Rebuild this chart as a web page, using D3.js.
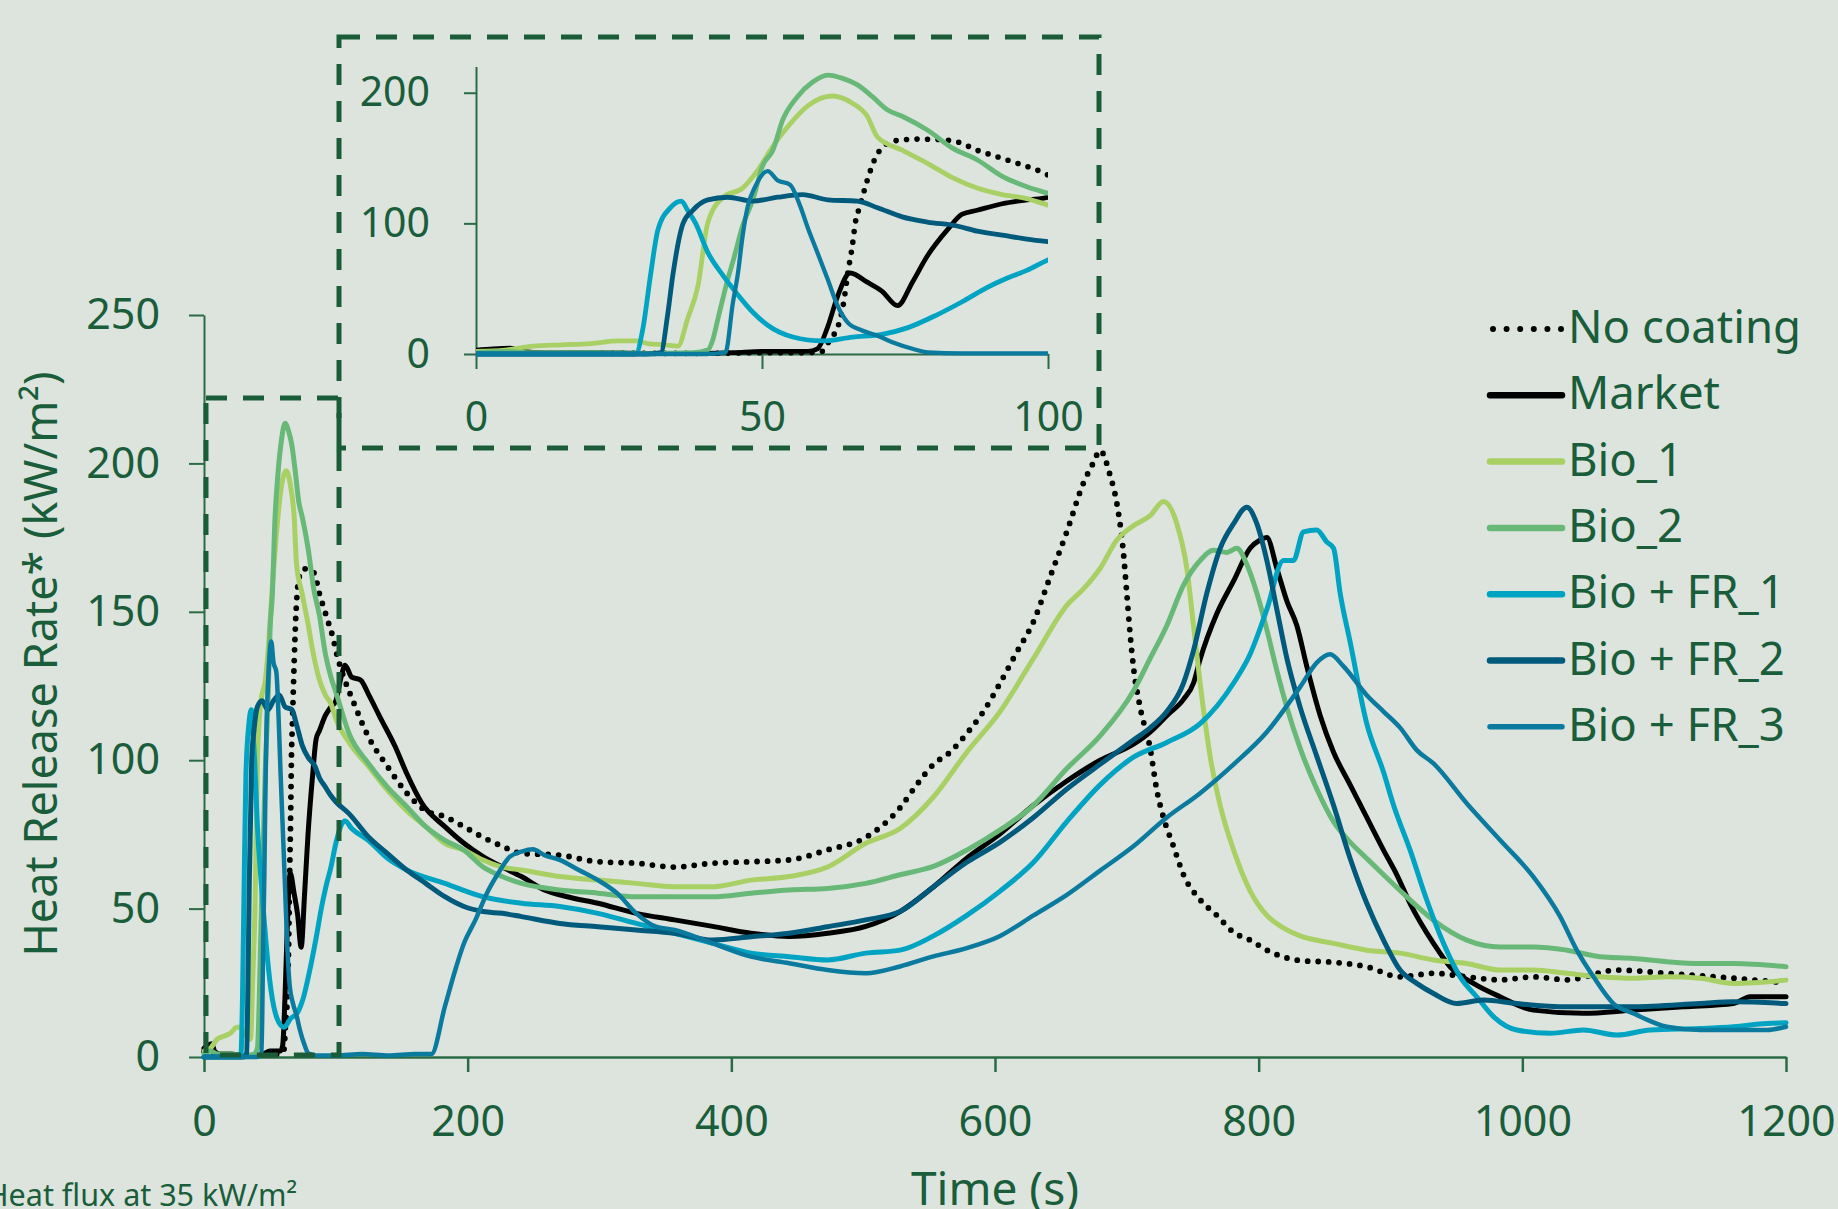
<!DOCTYPE html>
<html>
<head>
<meta charset="utf-8">
<script src="https://cdn.jsdelivr.net/npm/d3@7"></script>
<style>
  html, body { margin: 0; padding: 0; background: #dde4de; overflow: hidden; }
  svg { display: block; font-family: 'Noto Sans', sans-serif; }
</style>
</head>
<body>
<svg id="chart"></svg>
<script>
const SERIES = ['No coating', 'Market', 'Bio_1', 'Bio_2', 'Bio + FR_1', 'Bio + FR_2', 'Bio + FR_3']
const COLORS = ['#000000', '#000000', '#a9d064', '#68b878', '#00a4c2', '#005a7c', '#0a7a9e']
const X_TICKS = [0, 200, 400, 600, 800, 1000, 1200]
const Y_TICKS = [0, 50, 100, 150, 200, 250]
const INSET_X_TICKS = [0, 50, 100]
const INSET_Y_TICKS = [0, 100, 200]

// [time (s), heat release rate (kW/m2)]
const noCoating = [[0,2],[3,1.5],[6,1],[10,0.5],[20,0.5],[30,0.5],[40,0.5],[50,1],[55,1],[58,1],[60.5,2],[62,12],[63.2,20],[64.3,40],[65,62],[65.8,83],[66.3,100],[67.1,113],[68.4,133],[69.7,149],[71.9,161],[74.5,164],[77.2,164.5],[81.5,164],[84.1,162.5],[87.6,156],[91.1,151],[94.6,146],[98,141],[100,137],[106,128],[113,120],[124.6,108],[139,98],[153.7,89],[168.2,83],[182.7,81],[197.2,77.6],[211.7,74],[226.2,71],[240.8,68.6],[269.8,68],[298.8,65.8],[327.8,65.3],[356.9,64],[385.9,65.3],[414.9,65.8],[443.9,66.4],[473,69.8],[502,74],[528,84],[540.6,91.7],[553.3,98.6],[565.9,102.7],[578.6,109],[591.2,116.4],[603.9,126],[616.5,136.4],[629.2,146.7],[641.8,161.8],[654.5,177],[667.1,193.4],[674.7,200.3],[679.7,204.4],[687.3,196],[692.4,186.6],[697.4,170],[700,156],[702.5,142.5],[705,131.5],[710,118],[717.7,104],[722.7,90],[727.8,80.7],[735.4,71],[743,61.4],[755.6,53],[768.3,47.7],[781,42],[793.5,39.4],[806.2,36],[831.5,32.5],[856.8,31.9],[882,30.4],[907.3,27],[932.6,28.2],[957.9,27],[983.1,26],[1008.4,27],[1033.7,26],[1071.6,29.3],[1109.6,28.2],[1147.5,27],[1200,25]]

const market = [[0,3],[3,4],[6,4.5],[8,2],[12,1],[20,1],[30,0.5],[40,0.5],[45,1],[50,2],[55,2],[58,2],[59.7,4],[61.5,21],[63.2,44],[65.4,62],[68.4,55],[71,48],[73.7,37],[76.3,55],[78.9,75],[82.4,95],[85,107],[87.6,110],[92,115],[96.3,118],[100,120],[104,128],[107,132],[112,128],[118.8,127],[125,122],[133.3,114.7],[145,104.6],[153.7,95.6],[165.3,85.5],[182.7,77.6],[197.2,72],[211.7,67.5],[226.2,64],[240.8,60.8],[258.2,56.3],[275.6,54],[298.8,51.8],[327.8,48.4],[356.9,46.2],[385.9,44],[414.9,41.7],[443.9,40.6],[473,41.7],[502,44],[528,49],[553.3,57.3],[578.6,67],[603.9,75.2],[629.2,84.8],[654.5,93],[679.7,100],[705,105.4],[717.7,109.5],[730.3,115],[743,120.5],[750.6,126],[755.6,134],[768.3,149.4],[781,160.4],[793.5,171.4],[801.1,174.2],[806.2,175],[813.8,164.6],[821.4,153.6],[829,145.3],[836.5,131.6],[846.7,115],[856.8,102.7],[869.4,91.7],[882,80.7],[894.7,69.7],[904.8,61.4],[914.9,51.7],[932.6,38.3],[945.2,30.4],[962.9,24.8],[983.1,20.3],[1008.4,15.8],[1046.4,14.7],[1084.3,15.8],[1122.2,16.9],[1160.2,18],[1172.8,20.3],[1200,20.3]]

const bio1 = [[0,2],[5,3],[10,6],[15,7],[20,8],[25,10],[28,10],[30,8],[33,7],[35.3,6],[37,27],[38.8,52],[40.5,100],[43.2,120],[46.6,127],[49.3,141],[51.9,159],[54.5,174],[58,190],[62.3,197.5],[65.8,192],[68.4,182],[70.2,166],[74.5,156],[78.9,146],[83.3,135],[87.6,127],[92,122],[96.3,119],[100,114],[110,106],[124.6,98],[139,90],[153.7,83],[168.2,77.6],[182.7,72],[197.2,69.7],[211.7,66.4],[226.2,64],[240.8,63],[269.8,60.8],[298.8,59.6],[327.8,58.5],[356.9,57.4],[385.9,57.4],[414.9,59.6],[443.9,60.8],[473,64],[502,72],[528,77],[553.3,87.6],[578.6,102.7],[603.9,116.4],[629.2,134.3],[654.5,152.2],[667.1,157.7],[679.7,164.6],[692.4,174.2],[705,179],[717.7,182.4],[727.8,187.2],[737.9,179.7],[745.5,164.6],[750.6,145.3],[755.6,126],[763.2,101.3],[770.8,84.8],[781,69.7],[793.5,56],[806.2,47.7],[818.8,43.5],[831.5,40.8],[856.7,38.3],[882,36],[907.3,35],[932.6,32.7],[957.9,31.5],[983.1,29.3],[1008.4,29.3],[1033.7,28.2],[1059,27],[1084.3,26.5],[1109.6,27],[1134.9,26.5],[1160.2,24.8],[1200,25.9]]

const bio2 = [[0,1],[5,2],[10,1],[20,1],[30,0.5],[38,1],[40.5,3],[41.4,11],[42.3,27],[44,57],[45,72],[46.6,98],[48.4,118],[50.1,144],[51.9,156],[53.6,179],[56.2,197],[58.8,208],[61.5,213.5],[64.1,211],[66.7,206],[69.3,197],[71.9,187],[74.5,182],[78.9,171.5],[83.3,157.6],[87.6,148.7],[92,136],[96.3,128],[100,123],[110,109],[124.6,99],[139,91],[153.7,84.4],[168.2,77.6],[182.7,73],[197.2,69.7],[211.7,64],[226.2,60.8],[240.8,58.5],[269.8,56.3],[298.8,55.2],[327.8,54],[356.9,54],[385.9,54],[414.9,55.2],[443.9,56.3],[473,56.8],[502,58.5],[528,61.4],[553.3,64.2],[578.6,69.7],[603.9,76.5],[629.2,84.8],[654.5,97.2],[679.7,108.2],[705,123.3],[717.7,134.3],[730.3,145.3],[743,159],[755.6,167.3],[765.7,170.7],[775.8,170],[783.4,171.4],[791,166],[798.6,156.3],[806.2,144],[813.8,130.2],[821.4,117.8],[831.5,104],[844.1,90.3],[856.8,79.3],[869.4,72.4],[882,66.9],[894.7,61.4],[907.4,56],[932.6,46.1],[957.9,39.4],[983.1,37.1],[1008.4,37.1],[1033.7,36],[1059,33.8],[1084.3,33.2],[1109.6,32.1],[1134.9,31.5],[1160.2,31.5],[1200,30.4]]

const bioFr1 = [[0,0],[10,0],[20,0],[27.9,0],[29.2,20],[30.5,60],[31.8,95],[34,112],[35.9,117],[37,110],[38.4,100],[40.5,78],[43.2,60],[45.3,48],[48.4,32],[51,22],[55.4,13],[60.6,10],[65.8,13],[71,15],[75.4,20],[80.6,30],[85,40],[89.4,51],[92.8,58],[96.3,64],[100,72],[104,78],[107,79.5],[112,77],[124.6,73],[139,67],[153.7,63],[182.7,58.5],[211.7,54],[240.8,51.8],[269.8,50.7],[298.8,48.4],[327.8,45],[356.9,41.7],[385.9,38.3],[414.9,35],[443.9,33.8],[473,32.7],[502,35],[528,36],[553.3,40.8],[578.6,47.7],[603.9,55.9],[629.2,65.6],[654.5,79.3],[679.7,91.7],[705,101],[730.3,106],[755.6,112.3],[781,126],[793.5,135.7],[806.2,150.8],[818.8,167.3],[826.4,167.3],[834,176.9],[844.1,177.6],[851.7,173.5],[856.8,171.4],[861.8,156.3],[869.4,139.8],[882,112.3],[894.7,96],[902.2,85],[914.9,69.7],[927.5,52.9],[940.2,38.3],[952.8,27],[965.4,20.3],[978.1,13.6],[995.8,9.1],[1021,8],[1046.4,9.1],[1071.7,7.4],[1097,9.1],[1134.9,9.6],[1160.2,10.2],[1185.5,11.3],[1200,11.5]]

const bioFr2 = [[0,0],[10,0],[20,0],[30,0],[32.3,1],[33.5,30],[34.4,60],[36.2,100],[37.9,110],[40.5,118],[44,120],[48.4,117],[52.7,120],[57.1,122],[61.5,118],[66.7,117],[70.2,112],[74.5,105],[78.9,101],[84.1,98],[87.6,94],[92,91],[96.3,88],[100,86],[110,82],[124.6,74.2],[139,68.6],[153.7,63],[168.2,58.5],[182.7,54],[197.2,50.7],[211.7,49],[226.2,48.4],[240.8,47.3],[269.8,45],[298.8,43.9],[327.8,42.8],[356.9,41.7],[385.9,39.4],[414.9,40.5],[443.9,41.7],[473,43.9],[502,46.2],[528,49],[553.3,57.3],[578.6,65.6],[603.9,72.4],[629.2,80.7],[654.5,90.3],[679.7,98.6],[705,106.8],[717.7,110.9],[730.3,116.4],[743,126],[750.6,137],[760.7,156.3],[770.8,171.4],[781,179.7],[791,185.2],[798.6,179.7],[806.2,167.3],[813.8,150.8],[821.4,134.3],[831.5,117.8],[844.1,101.3],[856.8,84.8],[869.4,66.9],[882,51.8],[894.7,39.4],[907.3,29.3],[919.9,24.8],[932.6,21.4],[950.3,18],[970.5,19.2],[995.8,18],[1033.7,16.9],[1084.3,16.9],[1134.9,18],[1160.2,18.6],[1200,18]]

const bioFr3 = [[0,0],[10,0],[20,0],[30,0],[40,0],[43.6,1],[44.9,39],[45.8,62],[46.6,90],[47.5,113],[48.8,128],[51,140],[52.7,133],[54.9,129.6],[56.7,113],[58,96.6],[59.7,77.5],[61.5,57],[63.2,37],[65,24],[67.5,18],[70.2,14],[72.8,9],[76.3,4],[79,1.3],[85,0.5],[100,0.5],[120,1],[140,0.5],[160,1],[172.5,1],[182.7,17],[191.4,30.5],[197.2,38.3],[205.9,46.2],[214.6,55.2],[223.3,62],[232,67.5],[240.8,69.2],[249.5,70],[258.2,68],[269.8,66.4],[284.3,63],[298.8,59.6],[313.3,55.2],[327.8,48.4],[342.4,44],[356.9,42.8],[385.9,38.3],[414.9,33.8],[443.9,31.6],[473,29.3],[502,28.2],[528,30.5],[553.3,33.9],[578.6,36.7],[603.9,40.8],[629.2,47.7],[654.5,54.6],[679.7,62.8],[705,71],[730.3,80.7],[755.6,88.9],[781,98.6],[806.2,109.5],[831.5,124.7],[844.1,132.9],[854.2,135.7],[864.4,131.6],[882,121.9],[894.7,116.4],[907.4,110.9],[919.9,103.4],[932.6,98.9],[957.9,85.4],[983.1,73.1],[1008.4,60.7],[1028.7,47.3],[1041.3,36],[1054,27],[1069.1,18],[1084.3,14.7],[1109.6,10.2],[1134.9,9.1],[1160.2,9.1],[1185.5,9.1],[1200,10.2]]

const VALUES = [noCoating, market, bio1, bio2, bioFr1, bioFr2, bioFr3]

const WIDTH = 1838
const HEIGHT = 1209
const INK = '#1a5d3a'
const AXIS = '#2a6b45'
const DASH = '#1b5c38'

const svg = d3.select('#chart').attr('width', WIDTH).attr('height', HEIGHT)

svg.append('rect').attr('width', WIDTH).attr('height', HEIGHT).attr('fill', '#dde4de')

// main scales
const x = d3.scaleLinear().domain([0, 1200]).range([204, 1786])
const y = d3.scaleLinear().domain([0, 250]).range([1057, 315])

// inset scales
const ix = d3.scaleLinear().domain([0, 100]).range([476, 1048])
const iy = d3.scaleLinear().domain([0, 220]).range([354, 66.6])

const INSET_BOX = { x0: 339, y0: 37, x1: 1099, y1: 448 }

function styleAxis(g, size, width) {
	g.attr('font-size', null).attr('font-family', null)
	g.select('.domain').attr('stroke', AXIS).attr('stroke-width', width)
	g.selectAll('.tick line').attr('stroke', AXIS).attr('stroke-width', width)
	g.selectAll('.tick text')
		.attr('fill', INK)
		.attr('font-size', size)
		.attr('font-family', 'Noto Sans')
}

function drawLines(g, sx, sy, w) {
	const line = d3.line()
		.x(d => sx(d[0]))
		.y(d => sy(d[1]))
		.curve(d3.curveMonotoneX)

	g.selectAll('.series')
		.data(VALUES)
		.enter().append('path')
		.attr('class', 'series')
		.attr('d', line)
		.attr('fill', 'none')
		.attr('stroke', (d, i) => COLORS[i])
		.attr('stroke-width', (d, i) => i === 0 ? w + 0.8 : (i === 6 ? w - 0.5 : w))
		.attr('stroke-linejoin', 'round')
		.attr('stroke-linecap', 'round')
		.attr('stroke-dasharray', (d, i) => i === 0 ? '0 10.5' : null)
}

// main axes
const yAxis = svg.append('g')
	.attr('transform', `translate(${x(0)},0)`)
	.call(d3.axisLeft(y).tickValues(Y_TICKS).tickSize(15).tickSizeOuter(0).tickPadding(29))
styleAxis(yAxis, 43, 2)

const xAxis = svg.append('g')
	.attr('transform', `translate(0,${y(0)})`)
	.call(d3.axisBottom(x).tickValues(X_TICKS).tickFormat(d3.format('d')).tickSize(15).tickSizeOuter(0))
styleAxis(xAxis, 43, 2.5)
xAxis.selectAll('.tick text').attr('y', 79).attr('dy', 0)

// main series
drawLines(svg.append('g'), x, y, 5)

// inset axes
const iyAxis = svg.append('g')
	.attr('transform', `translate(${ix(0)},0)`)
	.call(d3.axisLeft(iy).tickValues(INSET_Y_TICKS).tickSize(12).tickSizeOuter(0).tickPadding(34))
styleAxis(iyAxis, 41, 2)

const ixAxis = svg.append('g')
	.attr('transform', `translate(0,${iy(0)})`)
	.call(d3.axisBottom(ix).tickValues(INSET_X_TICKS).tickSize(15).tickSizeOuter(0))
styleAxis(ixAxis, 41, 2)
ixAxis.selectAll('.tick text').attr('y', 77).attr('dy', 0)

// inset series, clipped to 0-100 s
svg.append('clipPath').attr('id', 'inset-clip')
	.append('rect')
	.attr('x', ix(0))
	.attr('y', iy(220) - 10)
	.attr('width', ix(100) - ix(0))
	.attr('height', iy(0) - iy(220) + 14)

drawLines(svg.append('g').attr('clip-path', 'url(#inset-clip)'), ix, iy, 4.8)

// dashed zoom boxes
const dashes = svg.append('g')
	.attr('fill', 'none')
	.attr('stroke', DASH)
	.attr('stroke-width', 5)
	.attr('stroke-dasharray', '21 16')

dashes.append('rect')
	.attr('x', x(0) + 2)
	.attr('y', y(222))
	.attr('width', INSET_BOX.x0 - x(0) - 2)
	.attr('height', y(0) - y(222) - 2)

dashes.append('rect')
	.attr('x', INSET_BOX.x0)
	.attr('y', INSET_BOX.y0)
	.attr('width', INSET_BOX.x1 - INSET_BOX.x0)
	.attr('height', INSET_BOX.y1 - INSET_BOX.y0)

// axis titles
svg.append('text')
	.attr('transform', 'translate(57,664) rotate(-90)')
	.attr('text-anchor', 'middle')
	.attr('fill', INK)
	.attr('font-size', 45)
	.text('Heat Release Rate* (kW/m²)')

svg.append('text')
	.attr('x', 995)
	.attr('y', 1205)
	.attr('text-anchor', 'middle')
	.attr('fill', INK)
	.attr('font-size', 46)
	.text('Time (s)')

svg.append('text')
	.attr('x', -14)
	.attr('y', 1206)
	.attr('fill', INK)
	.attr('font-size', 30.5)
	.text('Heat flux at 35 kW/m²')

// legend
const legend = svg.append('g').attr('transform', 'translate(1490,329)')
const item = legend.selectAll('.legend-item')
	.data(SERIES)
	.enter().append('g')
	.attr('class', 'legend-item')
	.attr('transform', (d, i) => `translate(0,${i * 66.3})`)

item.append('line')
	.attr('x1', (d, i) => i === 0 ? 3 : 0)
	.attr('x2', 72)
	.attr('stroke', (d, i) => COLORS[i])
	.attr('stroke-width', (d, i) => i === 0 ? 6 : (i === 6 ? 5.5 : 6.5))
	.attr('stroke-linecap', 'round')
	.attr('stroke-dasharray', (d, i) => i === 0 ? '0 13.6' : null)

item.append('text')
	.attr('x', 78)
	.attr('y', 14)
	.attr('fill', INK)
	.attr('font-size', 45.5)
	.text(d => d)
</script>
</body>
</html>
